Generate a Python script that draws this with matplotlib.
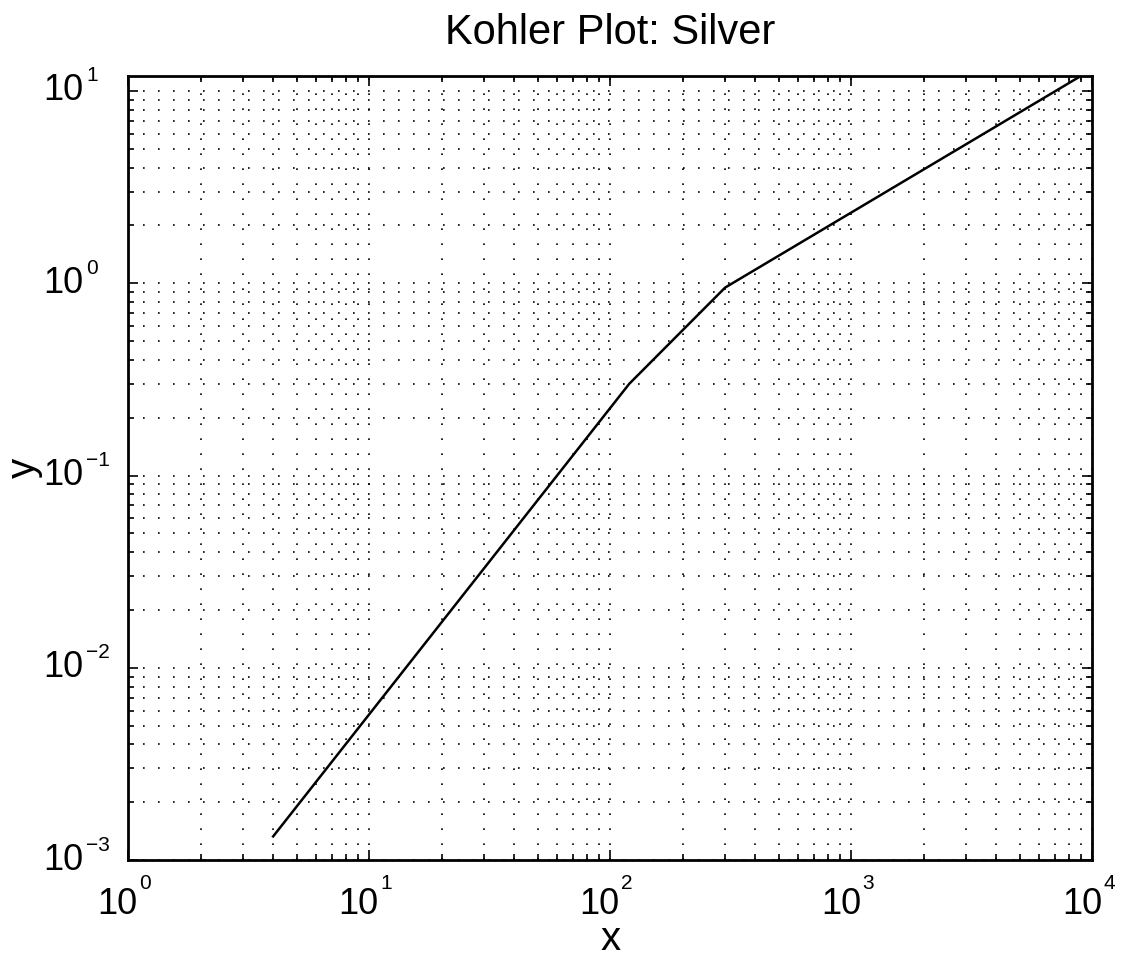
import matplotlib.pyplot as plt
from matplotlib.ticker import LogLocator, NullFormatter

# Kohler curve for silver, read as a piecewise-linear log-log line
x_vals = [4, 120, 300, 9000]
y_vals = [1.33e-3, 0.30, 0.95, 12.0]

x_limits = [1, 1e4]
y_limits = [1e-3, 12.0]
x_decades = [0, 1, 2, 3, 4]
y_decades = [-3, -2, -1, 0, 1]

plt.rcParams['font.family'] = ['Liberation Sans', 'DejaVu Sans']

fig = plt.figure(figsize=(11.33, 9.59), dpi=100)
ax = fig.add_axes([0.113, 0.103, 0.851, 0.818])

ax.loglog(x_vals, y_vals, color='black', linewidth=1.8)

ax.set_xlim(x_limits)
ax.set_ylim(y_limits)

ax.xaxis.set_major_locator(LogLocator(base=10, numticks=10))
ax.yaxis.set_major_locator(LogLocator(base=10, numticks=10))
ax.xaxis.set_minor_locator(LogLocator(base=10, subs=range(2, 10), numticks=20))
ax.yaxis.set_minor_locator(LogLocator(base=10, subs=range(2, 10), numticks=20))
ax.xaxis.set_major_formatter(NullFormatter())
ax.yaxis.set_major_formatter(NullFormatter())
ax.xaxis.set_minor_formatter(NullFormatter())
ax.yaxis.set_minor_formatter(NullFormatter())

# dotted major + minor grid, like the old MATLAB "grid on"
ax.grid(True, which='both', color='black', linestyle=(0, (1, 8)), linewidth=1.2)

ax.tick_params(which='both', direction='in', top=True, right=True, width=1.2)
ax.tick_params(which='major', length=7)
ax.tick_params(which='minor', length=4)

for spine in ax.spines.values():
    spine.set_linewidth(2)

# MATLAB style "10" + raised exponent tick labels (offsets in points)
base_size = 26
exp_size = 15
for d in x_decades:
    v = 10.0 ** d
    ax.annotate('10', xy=(v, 0), xycoords=('data', 'axes fraction'),
                xytext=(7, -19), textcoords='offset points',
                ha='right', va='top', fontsize=base_size, annotation_clip=False)
    ax.annotate(str(d), xy=(v, 0), xycoords=('data', 'axes fraction'),
                xytext=(8, -21), textcoords='offset points',
                ha='left', va='baseline', fontsize=exp_size, annotation_clip=False)
for d in y_decades:
    v = 10.0 ** d
    ax.annotate('10', xy=(0, v), xycoords=('axes fraction', 'data'),
                xytext=(-32, 0), textcoords='offset points',
                ha='right', va='center', fontsize=base_size, annotation_clip=False)
    ax.annotate(str(d).replace('-', '\u2212'), xy=(0, v), xycoords=('axes fraction', 'data'),
                xytext=(-30, 7), textcoords='offset points',
                ha='left', va='baseline', fontsize=exp_size, annotation_clip=False)

ax.set_title('Kohler Plot: Silver', fontsize=30, pad=23)
ax.set_xlabel('x', fontsize=29)
ax.xaxis.label.set_va('baseline')
ax.xaxis.set_label_coords(0.5, -0.115)
ax.set_ylabel('y', fontsize=29)
ax.yaxis.label.set_va('center')
ax.yaxis.set_label_coords(-0.108, 0.5)

fig.savefig('out.png', dpi=100)
